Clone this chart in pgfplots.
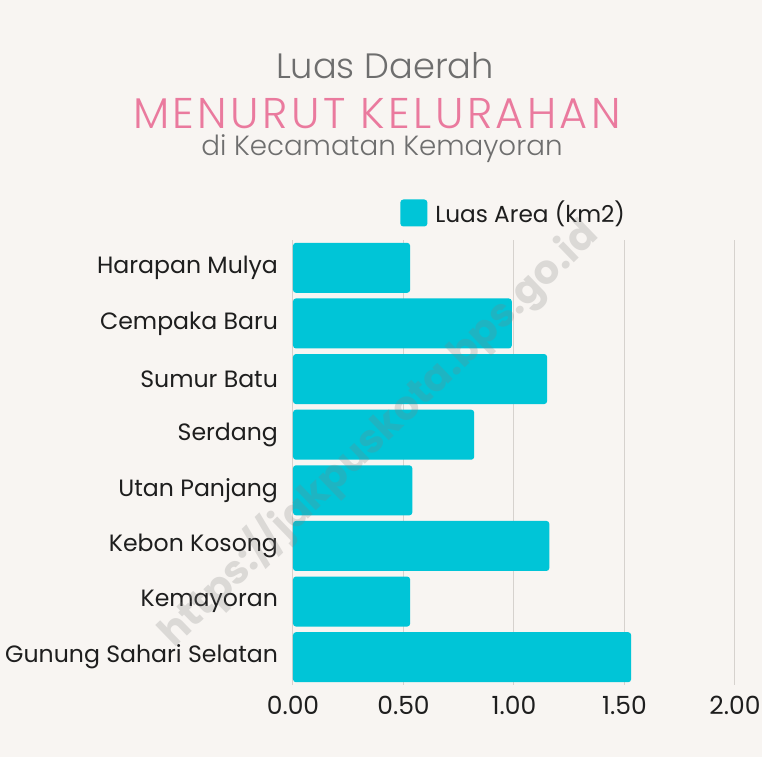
\documentclass[border=0pt]{standalone}
\usepackage{fontspec}
\setmainfont{Poppins}
\newfontfamily\thinfont{Poppins Light}
\newfontfamily\thinwide{Poppins Light}[LetterSpace=8]
\usepackage{pgfplots}
\pgfplotsset{compat=1.18}
\definecolor{bgc}{HTML}{F8F5F2}
\definecolor{barc}{HTML}{00C5D7}
\definecolor{gridc}{HTML}{D6D2CE}
\definecolor{titlegray}{HTML}{6E6E6E}
\definecolor{pinkc}{HTML}{EA7A9E}
\definecolor{txt}{HTML}{1E1E1E}
\begin{document}
\begin{tikzpicture}
\fill[bgc] (0,0) rectangle (381pt,378.5pt);
\useasboundingbox (0,0) rectangle (381pt,378.5pt);
\clip (0,0) rectangle (381pt,378.5pt);
\node[font=\thinfont\fontsize{17.6}{19}\selectfont, text=titlegray] at (192.5pt,345.5pt) {Luas Daerah};
\node[font=\thinwide\fontsize{21.5}{23}\selectfont, text=pinkc] at (188.5pt,321.5pt) {MENURUT KELURAHAN};
\node[font=\thinfont\fontsize{13.85}{15}\selectfont, text=titlegray] at (191pt,304pt) {di Kecamatan Kemayoran};
\begin{axis}[
  at={(146.5pt,36pt)}, anchor=south west,
  scale only axis, width=221pt, height=222.5pt,
  xmin=0, xmax=2, ymin=-0.5, ymax=7.5,
  y dir=reverse,
  axis line style={draw=none},
  xtick={0,0.5,1,1.5,2},
  ytick={0,...,7},
  yticklabels={Harapan Mulya, Cempaka Baru, Sumur Batu, Serdang, Utan Panjang, Kebon Kosong, Kemayoran, Gunung Sahari Selatan},
  xmajorgrids, major grid style={gridc, line width=0.5pt},
  major tick length=0pt,
  tick label style={text=txt},
  yticklabel style={xshift=-4pt, font=\fontsize{11.8}{13}\selectfont},
  xticklabel style={yshift=-2pt, font=\fontsize{12.5}{14}\selectfont},
  /pgf/number format/assume math mode=true,
  xticklabel={\pgfmathprintnumber[fixed,fixed zerofill,precision=2]{\tick}},
  xbar, bar width=0.9,
  legend style={at={(rel axis cs:0.242,1.0607)}, anchor=west, draw=none, fill=none,
    font=\fontsize{11.6}{13}\selectfont, text=txt, inner sep=0pt,
    nodes={inner sep=0pt}},
  legend image code/.code={\fill[barc] (0pt,-6.75pt) rectangle (13.5pt,6.75pt);},
  clip=false,
]
\addplot[fill=barc, draw=none, rounded corners=1.5pt] coordinates {
 (0.53,0) (0.99,1) (1.15,2) (0.82,3) (0.54,4) (1.16,5) (0.53,6) (1.53,7)};
\addlegendentry{\hspace{4pt}Luas Area (km2)}
\end{axis}
\node[font=\bfseries\fontsize{20}{22}\selectfont, text=gray, opacity=0.24, rotate=44] at (189pt,162pt) {https://jakpuskota.bps.go.id};
\end{tikzpicture}
\end{document}
